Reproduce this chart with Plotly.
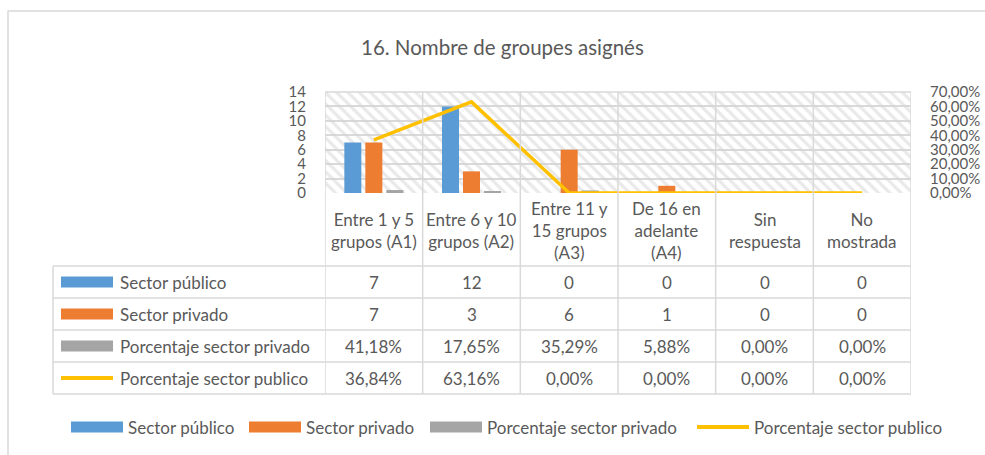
import plotly.graph_objects as go

# ---------------- data ----------------
categories = ["Entre 1 y 5<br>grupos (A1)", "Entre 6 y 10<br>grupos (A2)",
              "Entre 11 y<br>15 grupos<br>(A3)", "De 16 en<br>adelante<br>(A4)",
              "Sin<br>respuesta", "No<br>mostrada"]
cat_keys = ["A1", "A2", "A3", "A4", "SR", "NM"]
sector_publico = [7, 12, 0, 0, 0, 0]
sector_privado = [7, 3, 6, 1, 0, 0]
pct_sector_privado = [0.4118, 0.1765, 0.3529, 0.0588, 0.0, 0.0]
pct_sector_publico = [0.3684, 0.6316, 0.0, 0.0, 0.0, 0.0]
series_names = ["Sector público", "Sector privado",
                "Porcentaje sector privado", "Porcentaje sector publico"]
title_text = "16. Nombre de groupes asignés"

# ---------------- style ----------------
W, H = 985, 455
FONT = "Lato"
TXT = "#595959"
GRID = "#d9d9d9"
C_BLUE, C_ORANGE, C_GRAY, C_YELLOW = "#5B9BD5", "#ED7D31", "#A5A5A5", "#FFC000"
FS = 17


def px(x):
    return x / W


def py(y):
    return 1 - y / H


PLOT_L, PLOT_R, PLOT_T, PLOT_B = 325, 911, 92, 193
TABLE_B = 394
HEADER_B = 266
ROW_EDGES = [266, 298, 330, 362, 394]

fig = go.Figure()

# hatched background of the plot area (main subplot)
fig.add_trace(go.Bar(
    x=cat_keys, y=[14] * len(cat_keys), width=1,
    marker=dict(color="rgba(0,0,0,0)", line=dict(width=0),
                pattern=dict(shape="\\", fgcolor="#d4d4d4", bgcolor="rgba(0,0,0,0)",
                             size=8, solidity=0.4)),
    hoverinfo="skip", showlegend=False, xaxis="x", yaxis="y"))

# bars (overlay subplot)
fig.add_trace(go.Bar(x=cat_keys, y=sector_publico, name=series_names[0],
                     marker=dict(color=C_BLUE, line=dict(width=0)),
                     xaxis="x", yaxis="y2", showlegend=False))
fig.add_trace(go.Bar(x=cat_keys, y=sector_privado, name=series_names[1],
                     marker=dict(color=C_ORANGE, line=dict(width=0)),
                     xaxis="x", yaxis="y2", showlegend=False))
fig.add_trace(go.Bar(x=cat_keys, y=pct_sector_privado, name=series_names[2],
                     marker=dict(color=C_GRAY, line=dict(width=0)),
                     xaxis="x", yaxis="y2", showlegend=False))
# line on the secondary axis
fig.add_trace(go.Scatter(x=cat_keys, y=pct_sector_publico, name=series_names[3],
                         mode="lines", line=dict(color=C_YELLOW, width=3.5),
                         xaxis="x", yaxis="y3", showlegend=False))

shapes = []
annotations = []

# chart outer border
shapes.append(dict(type="rect", xref="paper", yref="paper",
                   x0=px(8), x1=px(W + 5), y0=py(H + 5), y1=py(11),
                   line=dict(color=GRID, width=1.5)))

# table / category vertical lines
for i in range(len(cat_keys) + 1):
    shapes.append(dict(type="line", xref="x", yref="paper",
                       x0=i - 0.5, x1=i - 0.5, y0=py(PLOT_T), y1=py(TABLE_B),
                       line=dict(color=GRID, width=1.5)))
# left border of the table rows
shapes.append(dict(type="line", xref="paper", yref="paper",
                   x0=px(53), x1=px(53), y0=py(HEADER_B), y1=py(TABLE_B),
                   line=dict(color=GRID, width=1.5)))
# horizontal row lines
for ye in ROW_EDGES:
    shapes.append(dict(type="line", xref="paper", yref="paper",
                       x0=px(53), x1=px(PLOT_R), y0=py(ye), y1=py(ye),
                       line=dict(color=GRID, width=1.5)))
# top border of plot area
shapes.append(dict(type="line", xref="paper", yref="paper",
                   x0=px(PLOT_L), x1=px(PLOT_R), y0=py(PLOT_T), y1=py(PLOT_T),
                   line=dict(color=GRID, width=1.5)))

# category labels in table header
for k, lab in zip(cat_keys, categories):
    annotations.append(dict(x=k, xref="x", y=py((PLOT_B + HEADER_B) / 2 + 1), yref="paper",
                            text=lab, showarrow=False, xanchor="center", yanchor="middle",
                            font=dict(family=FONT, size=FS, color=TXT)))


def fmt_pct(v):
    return f"{v * 100:.2f}%".replace(".", ",")


rows = [
    (series_names[0], "rect", C_BLUE, [str(v) for v in sector_publico]),
    (series_names[1], "rect", C_ORANGE, [str(v) for v in sector_privado]),
    (series_names[2], "rect", C_GRAY, [fmt_pct(v) for v in pct_sector_privado]),
    (series_names[3], "line", C_YELLOW, [fmt_pct(v) for v in pct_sector_publico]),
]

for r, (name, kind, col, vals) in enumerate(rows):
    yc = (ROW_EDGES[r] + ROW_EDGES[r + 1]) / 2
    if kind == "rect":
        shapes.append(dict(type="rect", xref="paper", yref="paper",
                           x0=px(61), x1=px(113), y0=py(yc + 5.5), y1=py(yc - 5.5),
                           fillcolor=col, line=dict(width=0)))
    else:
        shapes.append(dict(type="line", xref="paper", yref="paper",
                           x0=px(61), x1=px(113), y0=py(yc), y1=py(yc),
                           line=dict(color=col, width=4)))
    annotations.append(dict(x=px(118), xref="paper", y=py(yc), yref="paper",
                            text=name, showarrow=False, xanchor="left", yanchor="middle",
                            font=dict(family=FONT, size=FS, color=TXT)))
    for k, v in zip(cat_keys, vals):
        annotations.append(dict(x=k, xref="x", y=py(yc), yref="paper",
                                text=v, showarrow=False, xanchor="center", yanchor="middle",
                                font=dict(family=FONT, size=FS, color=TXT)))

# bottom legend
LEG_Y = 427
legend_items = [
    (series_names[0], "rect", C_BLUE, 71),
    (series_names[1], "rect", C_ORANGE, 249),
    (series_names[2], "rect", C_GRAY, 430),
    (series_names[3], "line", C_YELLOW, 697),
]
for name, kind, col, x0 in legend_items:
    if kind == "rect":
        shapes.append(dict(type="rect", xref="paper", yref="paper",
                           x0=px(x0), x1=px(x0 + 52), y0=py(LEG_Y + 5.5), y1=py(LEG_Y - 5.5),
                           fillcolor=col, line=dict(width=0)))
    else:
        shapes.append(dict(type="line", xref="paper", yref="paper",
                           x0=px(x0), x1=px(x0 + 52), y0=py(LEG_Y), y1=py(LEG_Y),
                           line=dict(color=col, width=4)))
    annotations.append(dict(x=px(x0 + 55), xref="paper", y=py(LEG_Y), yref="paper",
                            text=name, showarrow=False, xanchor="left", yanchor="middle",
                            font=dict(family=FONT, size=FS, color=TXT)))

# title
annotations.append(dict(x=px(503), xref="paper", y=py(47), yref="paper",
                        text=title_text, showarrow=False, xanchor="center", yanchor="middle",
                        font=dict(family=FONT, size=20.5, color=TXT)))

fig.update_layout(
    width=W, height=H, autosize=False,
    margin=dict(l=0, r=0, t=0, b=0, pad=0, autoexpand=False),
    paper_bgcolor="white", plot_bgcolor="white",
    separators=",.",
    barmode="group", bargap=0.355, bargroupgap=0.19,
    showlegend=False,
    font=dict(family=FONT, color=TXT),
    xaxis=dict(domain=[px(PLOT_L), px(PLOT_R)], type="category",
               categoryorder="array", categoryarray=cat_keys,
               range=[-0.5, len(cat_keys) - 0.5], automargin=False,
               showticklabels=False, showgrid=False, zeroline=False, showline=False,
               ticks=""),
    yaxis=dict(domain=[py(PLOT_B), py(PLOT_T)], range=[0, 14], dtick=2,
               automargin=False,
               showgrid=True, gridcolor=GRID, gridwidth=1.5, zeroline=False,
               showline=False, ticks="", ticklabelstandoff=18,
               tickfont=dict(family=FONT, size=15, color=TXT)),
    yaxis2=dict(overlaying="y", range=[0, 14], visible=False, automargin=False),
    yaxis3=dict(overlaying="y", side="right", anchor="x", range=[0, 0.7], dtick=0.1,
                automargin=False,
                tickformat=".2%", showgrid=False, zeroline=False, showline=False,
                ticks="", ticklabelstandoff=18,
                tickfont=dict(family=FONT, size=15, color=TXT)),
    shapes=shapes, annotations=annotations,
)

post = ("document.body.style.margin='0';"
        "document.documentElement.style.overflow='hidden';"
        "var d=document.getElementById('{plot_id}');"
        "d.style.position='absolute';d.style.left='0px';d.style.top='0px';")
fig.write_html("out.html", post_script=post,
               config={"displayModeBar": False, "responsive": False})
